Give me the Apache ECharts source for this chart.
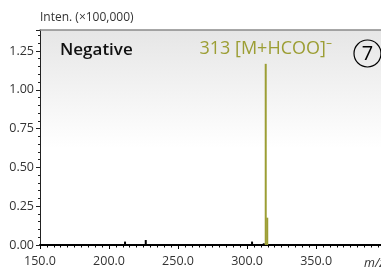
<!DOCTYPE html>
<html style="height: 100%">
<head>
<meta charset="utf-8">
<title>Negative</title>
<script src="https://cdn.jsdelivr.net/npm/echarts@6/dist/echarts.min.js"></script>
</head>
<body style="height: 100%; margin: 0; background: #fff">
<div id="container" style="width: 381px; height: 268px"></div>
<script type="text/javascript">
// m/z and intensity (x100,000)
var peakMz = [313.5, 314.6];
var peakInt = [1.167, 0.176];
var noiseMz = [211.6, 226.6, 303.6, 312.1];
var noiseInt = [0.022, 0.032, 0.022, 0.011];
var peakLabel = '313 [M+HCOO]⁻';
var olive = '#9c9e34';
var font = '"Open Sans", "Noto Sans", sans-serif';

function pairs(xs, ys) {
  return xs.map(function (x, i) { return [x, ys[i]]; });
}
var peakData = pairs(peakMz, peakInt);
peakData[0] = {
  value: peakData[0],
  label: {
    show: true, position: 'top', distance: 6, formatter: peakLabel,
    color: olive, fontSize: 18, fontFamily: font
  }
};

var myChart = echarts.init(document.getElementById('container'));
var option = {
  animation: false,
  textStyle: { fontFamily: font },
  grid: {
    left: 40, right: 0, top: 30, bottom: 21.5,
    show: true, borderWidth: 0,
    backgroundColor: new echarts.graphic.LinearGradient(0, 0, 0, 1, [
      { offset: 0, color: '#e6e6e6' },
      { offset: 0.55, color: '#ffffff' },
      { offset: 1, color: '#ffffff' }
    ])
  },
  xAxis: [{
    type: 'value', min: 150, max: 397, interval: 50,
    axisLine: { show: true, lineStyle: { color: '#000', width: 2 } },
    axisTick: { show: true, length: 4, lineStyle: { color: '#000' } },
    minorTick: { show: true, splitNumber: 10, length: 2.5, lineStyle: { color: '#000' } },
    splitLine: { show: false },
    axisLabel: {
      color: '#333', fontSize: 12.5, margin: 10, showMaxLabel: false,
      formatter: function (v) { return v.toFixed(1); }
    }
  }, {
    type: 'value', position: 'top', min: 150, max: 397,
    axisLine: { show: true, lineStyle: { color: '#8a8a8a', width: 1.5 } },
    axisTick: { show: false }, axisLabel: { show: false }, splitLine: { show: false }
  }],
  yAxis: {
    type: 'value', min: 0, max: 1.385, interval: 0.25,
    axisLine: { show: true, lineStyle: { color: '#222', width: 1 } },
    axisTick: { show: true, length: 4, lineStyle: { color: '#222' } },
    minorTick: { show: true, splitNumber: 5, length: 2, lineStyle: { color: '#222' } },
    splitLine: { show: false },
    axisLabel: {
      color: '#333', fontSize: 12.5, margin: 6, showMaxLabel: false,
      formatter: function (v) { return v.toFixed(2); }
    }
  },
  graphic: [
    { type: 'text', left: 40, top: 12, style: { text: 'Inten. (×100,000)', fill: '#333', font: '12px ' + font } },
    { type: 'text', left: 60, top: 42, style: { text: 'Negative', fill: '#111', font: '600 17px ' + font } },
    { type: 'circle', shape: { cx: 367.5, cy: 53.5, r: 13.5 }, style: { fill: 'none', stroke: '#000', lineWidth: 1.2 } },
    { type: 'text', x: 367.5, y: 54, style: { text: '7', fill: '#000', font: '500 20px ' + font, align: 'center', verticalAlign: 'middle' } },
    { type: 'text', left: 364, top: 257, style: { text: 'm/z', fill: '#333', font: 'italic 12.5px ' + font } }
  ],
  series: [{
    type: 'bar', barWidth: 2, barGap: '-100%', silent: true,
    itemStyle: { color: '#000' },
    data: pairs(noiseMz, noiseInt)
  }, {
    type: 'bar', barWidth: 2, barGap: '-100%', silent: true,
    itemStyle: { color: olive },
    data: peakData
  }]
};
myChart.setOption(option);
</script>
</body>
</html>
